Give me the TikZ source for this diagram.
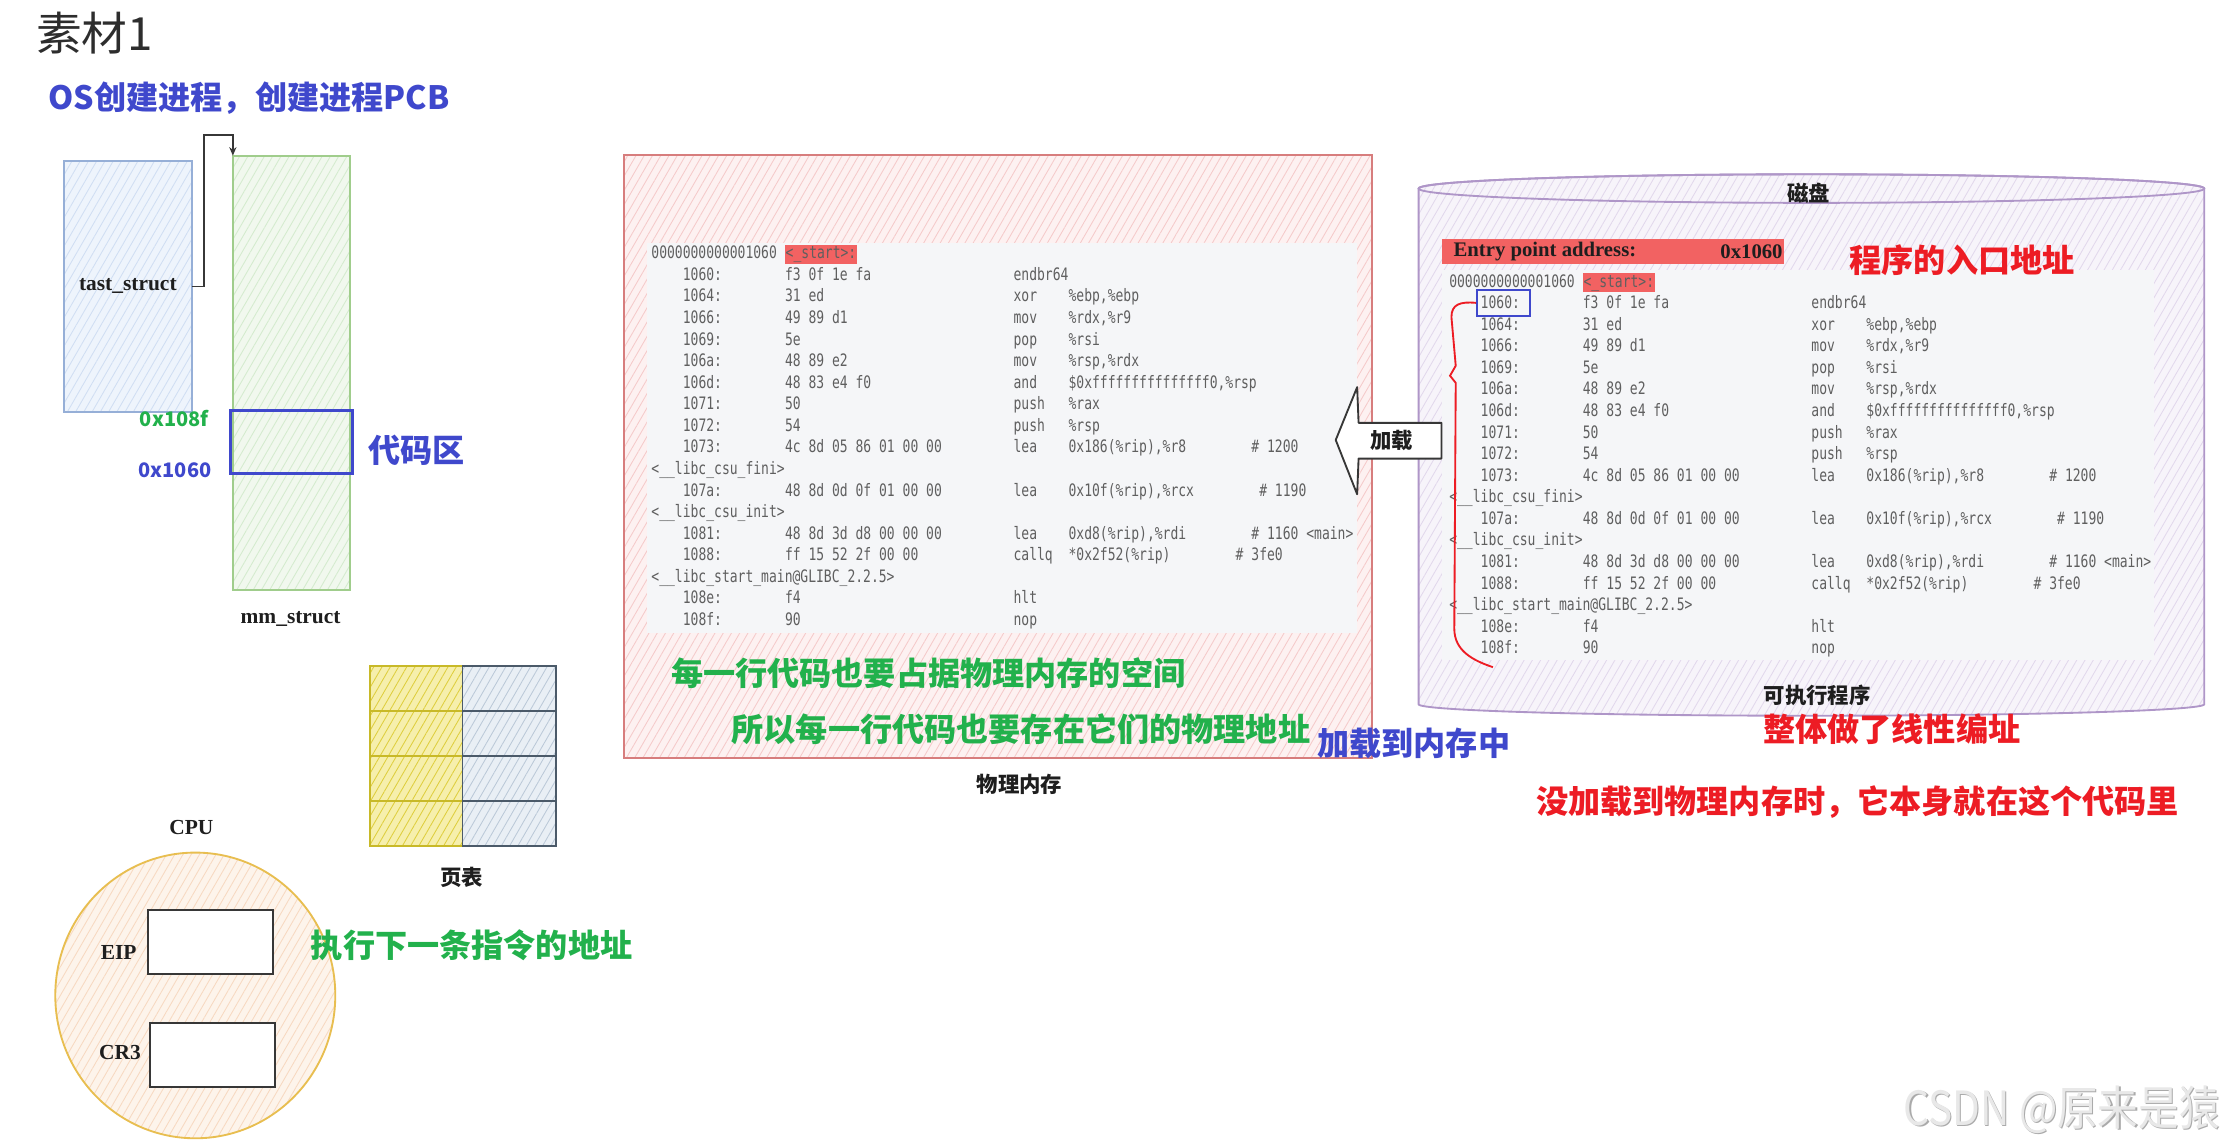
\documentclass[tikz,border=0pt]{standalone}
\usepackage{fontspec}
\setmainfont{Liberation Serif}
\newfontfamily\cjk{Noto Sans CJK SC}
\newfontfamily\codefont[FakeStretch=0.76]{DejaVu Sans Mono}
\newfontfamily\wmfont[FakeStretch=0.86]{Noto Sans CJK SC}
\usetikzlibrary{shapes.geometric,patterns.meta,arrows.meta}

\definecolor{cblue}{RGB}{63,72,204}
\definecolor{cgreen}{RGB}{34,177,76}
\definecolor{cred}{RGB}{237,28,36}
\definecolor{labelblack}{RGB}{30,30,30}
\definecolor{titlegray}{RGB}{45,45,45}
\definecolor{codegray}{RGB}{95,95,95}
\definecolor{codebg}{RGB}{245,246,248}
\definecolor{startred}{RGB}{242,98,98}
\definecolor{taskborder}{RGB}{150,175,215}
\definecolor{taskfill}{RGB}{238,244,252}
\definecolor{taskhatch}{RGB}{208,222,243}
\definecolor{mmborder}{RGB}{160,205,140}
\definecolor{mmfill}{RGB}{241,248,238}
\definecolor{mmhatch}{RGB}{212,235,206}
\definecolor{memborder}{RGB}{215,125,125}
\definecolor{memfill}{RGB}{253,241,241}
\definecolor{memhatch}{RGB}{245,202,202}
\definecolor{diskborder}{RGB}{175,150,200}
\definecolor{diskfill}{RGB}{247,244,250}
\definecolor{diskhatch}{RGB}{226,216,236}
\definecolor{ptyborder}{RGB}{200,185,40}
\definecolor{ptyfill}{RGB}{246,239,172}
\definecolor{ptyhatch}{RGB}{222,206,62}
\definecolor{ptbborder}{RGB}{75,90,105}
\definecolor{ptbfill}{RGB}{233,239,245}
\definecolor{ptbhatch}{RGB}{187,201,216}
\definecolor{cpuborder}{RGB}{232,190,80}
\definecolor{cpufill}{RGB}{253,244,235}
\definecolor{cpuhatch}{RGB}{247,217,193}
\definecolor{regborder}{RGB}{55,55,55}
\definecolor{wmtext}{RGB}{232,232,232}
\definecolor{wmshadow}{RGB}{170,170,170}

\tikzset{
  hatch/.style 2 args={preaction={fill=#1}, pattern={Lines[angle=60,distance=5pt,line width=0.6pt]}, pattern color=#2},
  box/.style={draw, line width=1.3pt, inner sep=0, outer sep=0},
  ann/.style={font=\cjk\bfseries\fontsize{22.5}{24}\selectfont, inner sep=0, anchor=west},
  lbl/.style={font=\cjk\bfseries\fontsize{15}{16}\selectfont, text=labelblack, inner sep=0},
  serif/.style={font=\bfseries\fontsize{15}{16}\selectfont, text=labelblack, inner sep=0},
  hex/.style={font=\cjk\bfseries\fontsize{14}{15}\selectfont, inner sep=0},
  code/.style={font=\codefont\fontsize{12}{12}\selectfont, text=codegray, inner sep=0, anchor=base west},
  startbox/.style={fill=startred, inner xsep=0.5pt, inner ysep=1pt, text height=8.5pt, text depth=2.5pt},
  regbox/.style={draw=regborder, fill=white, line width=1.4pt, inner sep=0},
  wm/.style={font=\wmfont\fontsize{33}{34}\selectfont, inner sep=0, anchor=west},
}

\newcommand\cl[4]{\node[code] (#1) at (#2,#3*15.1) {#4};}
\newcommand\codelines[1]{%
\cl{#1a0}{0}{0}{0000000000001060}
\node[code,startbox] (#1st) at (93.5,0) {<\_start>:};
\cl{#1a1}{22}{1}{1060:}\cl{#1b1}{93.5}{1}{f3 0f 1e fa}\cl{#1m1}{253.5}{1}{endbr64}
\cl{#1a2}{22}{2}{1064:}\cl{#1b2}{93.5}{2}{31 ed}\cl{#1m2}{253.5}{2}{xor}\cl{#1o2}{292}{2}{\%ebp,\%ebp}
\cl{#1a3}{22}{3}{1066:}\cl{#1b3}{93.5}{3}{49 89 d1}\cl{#1m3}{253.5}{3}{mov}\cl{#1o3}{292}{3}{\%rdx,\%r9}
\cl{#1a4}{22}{4}{1069:}\cl{#1b4}{93.5}{4}{5e}\cl{#1m4}{253.5}{4}{pop}\cl{#1o4}{292}{4}{\%rsi}
\cl{#1a5}{22}{5}{106a:}\cl{#1b5}{93.5}{5}{48 89 e2}\cl{#1m5}{253.5}{5}{mov}\cl{#1o5}{292}{5}{\%rsp,\%rdx}
\cl{#1a6}{22}{6}{106d:}\cl{#1b6}{93.5}{6}{48 83 e4 f0}\cl{#1m6}{253.5}{6}{and}\cl{#1o6}{292}{6}{\$0xfffffffffffffff0,\%rsp}
\cl{#1a7}{22}{7}{1071:}\cl{#1b7}{93.5}{7}{50}\cl{#1m7}{253.5}{7}{push}\cl{#1o7}{292}{7}{\%rax}
\cl{#1a8}{22}{8}{1072:}\cl{#1b8}{93.5}{8}{54}\cl{#1m8}{253.5}{8}{push}\cl{#1o8}{292}{8}{\%rsp}
\cl{#1a9}{22}{9}{1073:}\cl{#1b9}{93.5}{9}{4c 8d 05 86 01 00 00}\cl{#1m9}{253.5}{9}{lea}\cl{#1o9}{292}{9}{0x186(\%rip),\%r8}\cl{#1c9}{420}{9}{\# 1200}
\cl{#1a10}{0}{10}{<\_\_libc\_csu\_fini>}
\cl{#1a11}{22}{11}{107a:}\cl{#1b11}{93.5}{11}{48 8d 0d 0f 01 00 00}\cl{#1m11}{253.5}{11}{lea}\cl{#1o11}{292}{11}{0x10f(\%rip),\%rcx}\cl{#1c11}{425.5}{11}{\# 1190}
\cl{#1a12}{0}{12}{<\_\_libc\_csu\_init>}
\cl{#1a13}{22}{13}{1081:}\cl{#1b13}{93.5}{13}{48 8d 3d d8 00 00 00}\cl{#1m13}{253.5}{13}{lea}\cl{#1o13}{292}{13}{0xd8(\%rip),\%rdi}\cl{#1c13}{420}{13}{\# 1160 <main>}
\cl{#1a14}{22}{14}{1088:}\cl{#1b14}{93.5}{14}{ff 15 52 2f 00 00}\cl{#1m14}{253.5}{14}{callq}\cl{#1o14}{292}{14}{*0x2f52(\%rip)}\cl{#1c14}{409}{14}{\# 3fe0}
\cl{#1a15}{0}{15}{<\_\_libc\_start\_main@GLIBC\_2.2.5>}
\cl{#1a16}{22}{16}{108e:}\cl{#1b16}{93.5}{16}{f4}\cl{#1m16}{253.5}{16}{hlt}
\cl{#1a17}{22}{17}{108f:}\cl{#1b17}{93.5}{17}{90}\cl{#1m17}{253.5}{17}{nop}
}

\begin{document}
\begin{tikzpicture}[x=1pt,y=-1pt]
\useasboundingbox (0,0) rectangle (1568,800);
\fill[white] (0,0) rectangle (1568,800);

% ---------- left part ----------
\node[anchor=west, inner sep=0, font=\cjk\fontsize{32}{34}\selectfont, text=titlegray] (title) at (25,23) {素材1};
\node[ann, text=cblue] (ostitle) at (33.8,68.5) {OS创建进程，创建进程PCB};

\node[box, draw=taskborder, hatch={taskfill}{taskhatch}, minimum width=89.3, minimum height=175.6] (task) at (89.45,200.3) {};
\node[serif] (tasklbl) at (89.5,200.5) {tast\_struct};
\node[box, draw=mmborder, hatch={mmfill}{mmhatch}, minimum width=82, minimum height=304] (mm) at (204,261) {};
\node[serif] (mmlbl) at (203.4,433.3) {mm\_struct};
\draw[regborder, line width=1.3pt, -{Stealth[length=6pt,width=5pt]}]
  (task.east |- tasklbl.center) -- ++(8.5,0) |- ([yshift=14.5pt]mm.north west) -- (mm.north west);

\node[draw=cblue, line width=2.2pt, inner sep=0, minimum width=85.6, minimum height=44.1] (codebox) at (204.2,309.65) {};
\node[ann, text=cblue] (codearea) at (257.6,315) {代码区};
\node[hex, text=cgreen] (hexend) at (122,293) {0x108f};
\node[hex, text=cblue] (hexstart) at (122.5,329.4) {0x1060};

% page table
\foreach \r/\yc in {1/481.75,2/513.25,3/544.75,4/576.25}{
  \node[box, draw=ptyborder, hatch={ptyfill}{ptyhatch}, minimum width=64.7, minimum height=31.5] (pty\r) at (291.35,\yc) {};
  \node[box, draw=ptbborder, hatch={ptbfill}{ptbhatch}, minimum width=65.5, minimum height=31.5] (ptb\r) at (356.45,\yc) {};
}
\node[lbl] (ptlbl) at (323,614) {页表};

% CPU
\node[serif] (cpulbl) at (134,579) {CPU};
\node[ellipse, draw=cpuborder, line width=1.3pt, hatch={cpufill}{cpuhatch}, minimum width=196, minimum height=200, inner sep=0] (cpu) at (136.7,696.8) {};
\node[regbox, minimum width=87.5, minimum height=44.5] (eip) at (147.15,659.55) {};
\node[regbox, minimum width=87.1, minimum height=44.3] (cr3) at (148.85,738.45) {};
\node[serif] (eiplbl) at (83.1,667) {EIP};
\node[serif] (cr3lbl) at (84,736.5) {CR3};
\node[ann, text=cgreen] (nextinst) at (217.4,662) {执行下一条指令的地址};

% ---------- physical memory ----------
\node[box, draw=memborder, hatch={memfill}{memhatch}, minimum width=523.8, minimum height=421.9] (mem) at (698.6,319.55) {};
\node[fill=codebg, inner sep=0, minimum width=497, minimum height=273.1] (membg) at (701.5,306.35) {};
\begin{scope}[shift={(455.8,181.1)}]
\codelines{m}
\end{scope}
\node[lbl] (memlbl) at (713.6,549.2) {物理内存};

% ---------- disk ----------
\path[draw=diskborder, line width=1.3pt, hatch={diskfill}{diskhatch}]
  (993,132) -- (993,493) arc[start angle=180, end angle=0, x radius=275, y radius=8]
  -- (1543,132) arc[start angle=0, end angle=-180, x radius=275, y radius=10] -- cycle;
\draw[diskborder, line width=1.3pt] (1268,132) ellipse[x radius=275, y radius=10];
\node[lbl] (disklbl) at (1266,135) {磁盘};
\node[fill=startred, inner sep=0, minimum width=239.3, minimum height=17.1] (entrybox) at (1129.35,175.95) {};
\node[serif, font=\bfseries\fontsize{14.5}{15}\selectfont, anchor=west] (entrytxt) at (1017.3,176) {Entry point address:};
\node[serif, font=\bfseries\fontsize{14.5}{15}\selectfont, anchor=east] (entryval) at (1248,176) {0x1060};
\node[fill=codebg, inner sep=0, minimum width=497.8, minimum height=273] (diskbg) at (1258.6,325.5) {};
\begin{scope}[shift={(1014.3,200.9)}]
\codelines{d}
\end{scope}
\node[draw=cblue, line width=1.6pt, inner sep=0, minimum width=37, minimum height=18] (hl) at (1052.5,212) {};
\draw[cred, line width=1.3pt] (hl.west) .. controls (1022,211) and (1016,213) .. (1016,222)
  -- (1019,256) -- (1015,263) -- (1019,268) -- (1018,440)
  .. controls (1018,455) and (1030,462) .. (1045,467);
\node[lbl] (exelbl) at (1272,487) {可执行程序};

% ---------- load arrow ----------
\path[draw=regborder, line width=1.3pt, fill=white, line join=round]
  (935,308) -- (950,271) -- (951,296) -- (1009,296) -- (1009,321) -- (951,321) -- (950,346) -- cycle;
\node[lbl] (loadlbl) at (974,308) {加载};

% ---------- annotations ----------
\node[ann, text=cgreen] (line1) at (469.5,471) {每一行代码也要占据物理内存的空间};
\node[ann, text=cgreen] (line2) at (511.9,510.7) {所以每一行代码也要存在它们的物理地址};
\node[ann, text=cblue] (loadmem) at (921.9,520.5) {加载到内存中};
\node[ann, text=cred] (entryann) at (1294.5,182) {程序的入口地址};
\node[ann, text=cred] (linear) at (1234,510.5) {整体做了线性编址};
\node[ann, text=cred] (notload) at (1075,561.5) {没加载到物理内存时，它本身就在这个代码里};

% watermark
\node[wm, text=wmshadow] (wmS) at (1333.3,777.8) {CSDN @原来是猿};
\node[wm, text=wmtext] (wmT) at (1332.5,777) {CSDN @原来是猿};
\end{tikzpicture}
\end{document}
